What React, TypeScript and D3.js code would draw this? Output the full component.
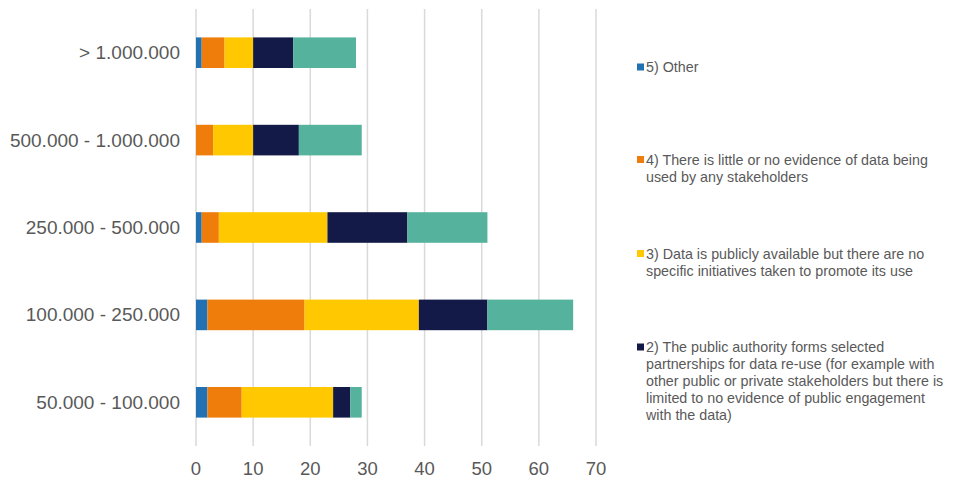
import * as d3 from 'd3'

const categories = ['> 1.000.000', '500.000 - 1.000.000', '250.000 - 500.000', '100.000 - 250.000', '50.000 - 100.000']

const seriesNames = ['5) Other', '4) Little or no evidence', '3) Publicly available', '2) Selected partnerships', '1) Public engagement']

const other = [1, 0, 1, 2, 2]
const littleEvidence = [4, 3, 3, 17, 6]
const publiclyAvailable = [5, 7, 19, 20, 16]
const partnerships = [7, 8, 14, 12, 3]
const engagement = [11, 11, 14, 15, 2]

const xTicks = [0, 10, 20, 30, 40, 50, 60, 70]

const colors = ['#2271B3', '#EF7D0B', '#FFC800', '#131A48', '#55B29C']

// legend text, already wrapped as in the original (the 1) entry is cut off there)
const legendLines = [
  ['5) Other'],
  ['4) There is little or no evidence of data being', 'used by any stakeholders'],
  ['3) Data is publicly available but there are no', 'specific initiatives taken to promote its use'],
  [
    '2) The public authority forms selected',
    'partnerships for data re-use (for example with',
    'other public or private stakeholders but there is',
    'limited to no evidence of public engagement',
    'with the data)',
  ],
]
const legendCenters = [67, 168, 262, 381]

const W = 957
const H = 483
const margin = { top: 9, right: 361, bottom: 37, left: 196 }

const App = () => {
  const values = [other, littleEvidence, publiclyAvailable, partnerships, engagement]
  const rows = categories.map((c, i) => {
    const r: Record<string, any> = { category: c }
    seriesNames.forEach((s, j) => (r[s] = values[j][i]))
    return r
  })
  const stacked = d3.stack<Record<string, any>>().keys(seriesNames)(rows)

  const x = d3.scaleLinear().domain([0, 70]).range([margin.left, W - margin.right])
  const y = d3
    .scaleBand()
    .domain(categories)
    .range([margin.top, H - margin.bottom])
    .paddingInner(0.65)
    .paddingOuter(0.325)

  const gray = '#595959'
  const lineH = 17

  return (
    <svg
      width={W}
      height={H}
      style={{ position: 'absolute', left: 0, top: 0, background: '#fff', fontFamily: 'Liberation Sans, Arial, sans-serif' }}
    >
      {/* gridlines */}
      {xTicks.map((t) => (
        <line key={t} x1={x(t)} x2={x(t)} y1={margin.top} y2={H - margin.bottom} stroke="#D9D9D9" strokeWidth={1.5} />
      ))}

      {/* bars */}
      {stacked.map((layer, j) => (
        <g key={layer.key} fill={colors[j]}>
          {layer.map((d, i) =>
            d[1] - d[0] > 0 ? (
              <rect
                key={i}
                x={x(d[0])}
                y={y(categories[i])}
                width={x(d[1]) - x(d[0])}
                height={y.bandwidth()}
              />
            ) : null
          )}
        </g>
      ))}

      {/* category labels */}
      {categories.map((c) => (
        <text
          key={c}
          x={margin.left - 16}
          y={(y(c) ?? 0) + y.bandwidth() / 2}
          textAnchor="end"
          dominantBaseline="central"
          fontSize={19}
          fill={gray}
        >
          {c}
        </text>
      ))}

      {/* x tick labels */}
      {xTicks.map((t) => (
        <text key={t} x={x(t)} y={H - margin.bottom + 22} textAnchor="middle" dominantBaseline="central" fontSize={18.5} fill={gray}>
          {t}
        </text>
      ))}

      {/* legend */}
      {legendLines.map((lines, k) => {
        const top = legendCenters[k] - ((lines.length - 1) * lineH) / 2
        return (
          <g key={k}>
            <rect x={637} y={top - 3.5} width={7} height={7} fill={colors[k]} />
            {lines.map((l, n) => (
              <text key={n} x={646} y={top + n * lineH} dominantBaseline="central" fontSize={14.3} fill={gray}>
                {l}
              </text>
            ))}
          </g>
        )
      })}
    </svg>
  )
}

export default App
